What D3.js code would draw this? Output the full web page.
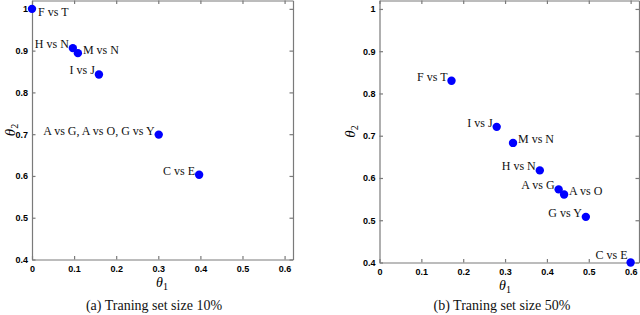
<!DOCTYPE html>
<html><head><meta charset="utf-8">
<script src="https://cdn.jsdelivr.net/npm/d3@7"></script>
<style>body{margin:0;background:#fff}svg{display:block}</style>
</head><body>
<svg id="c" width="640" height="315"></svg>
<script>
// ---- data ----
const xTicks = [0, 0.1, 0.2, 0.3, 0.4, 0.5, 0.6];
const yTicks = [0.4, 0.5, 0.6, 0.7, 0.8, 0.9, 1];
const xTickLabels = ["0", "0.1", "0.2", "0.3", "0.4", "0.5", "0.6"];
const yTickLabels = ["0.4", "0.5", "0.6", "0.7", "0.8", "0.9", "1"];

const labelsA = ["F vs T", "H vs N", "M vs N", "I vs J", "A vs G, A vs O, G vs Y", "C vs E"];
const theta1A = [0.0, 0.097, 0.109, 0.159, 0.301, 0.397];
const theta2A = [1.0, 0.906, 0.894, 0.843, 0.699, 0.603];
const placeA = ["SE", "W", "E", "W", "W", "W"];

const labelsB = ["F vs T", "I vs J", "M vs N", "H vs N", "A vs G", "A vs O", "G vs Y", "C vs E"];
const theta1B = [0.172, 0.280, 0.319, 0.383, 0.428, 0.441, 0.493, 0.600];
const theta2B = [0.830, 0.721, 0.683, 0.618, 0.573, 0.561, 0.508, 0.400];
const placeB = ["W", "W", "E", "W", "W", "E", "W", "NW"];

const captions = ["(a) Traning set size 10%", "(b) Traning set size 50%"];

// ---- drawing ----
const svg = d3.select("#c");
const panels = [
  {box: {l: 32, r: 293, t: 0.5, b: 259.5}, labels: labelsA, xs: theta1A, ys: theta2A, place: placeA, caption: captions[0], capX: 154, t1X: 162, t2X: 11},
  {box: {l: 379.5, r: 639, t: 0.5, b: 262.5}, labels: labelsB, xs: theta1B, ys: theta2B, place: placeB, caption: captions[1], capX: 502, t1X: 505, t2X: 351}
];
const offsets = {SE: [6, 7.5, "start"], W: [-4, 0, "end"], E: [5, 0.5, "start"], NW: [-3, -4, "end"]};
const axisColor = "#7a7a7a";

panels.forEach(p => {
  const b = p.box;
  const x = d3.scaleLinear().domain([0, 0.62]).range([b.l, b.r]);
  const y = d3.scaleLinear().domain([0.4, 1.02]).range([b.b, b.t]);
  const g = svg.append("g");

  // axes: ticks inside, on all four sides
  const fmtX = (d, i) => xTickLabels[i];
  const fmtY = (d, i) => yTickLabels[i];
  const bottom = g.append("g").attr("transform", `translate(0,${b.b})`)
    .call(d3.axisBottom(x).tickValues(xTicks).tickFormat(fmtX).tickSizeInner(-3.5).tickSizeOuter(0).tickPadding(6));
  const left = g.append("g").attr("transform", `translate(${b.l},0)`)
    .call(d3.axisLeft(y).tickValues(yTicks).tickFormat(fmtY).tickSizeInner(-3.5).tickSizeOuter(0).tickPadding(4));
  const top = g.append("g").attr("transform", `translate(0,${b.t})`)
    .call(d3.axisTop(x).tickValues(xTicks).tickFormat("").tickSizeInner(-3.5).tickSizeOuter(0));
  const right = g.append("g").attr("transform", `translate(${b.r},0)`)
    .call(d3.axisRight(y).tickValues(yTicks).tickFormat("").tickSizeInner(-3.5).tickSizeOuter(0));
  [bottom, left, top, right].forEach(a => {
    a.selectAll("path,line").attr("stroke", axisColor).attr("stroke-width", 1.2);
    a.selectAll("text").attr("fill", "#000").style("font-family", "'Liberation Sans', Arial, sans-serif")
      .style("font-size", "9px").style("font-weight", "bold");
  });

  // points
  const pts = p.labels.map((l, i) => ({l, x: p.xs[i], y: p.ys[i], pl: p.place[i]}));
  g.selectAll("circle").data(pts).enter().append("circle")
    .attr("cx", d => x(d.x)).attr("cy", d => y(d.y)).attr("r", 4.2).attr("fill", "#0000ff");
  g.selectAll("text.lbl").data(pts).enter().append("text").attr("class", "lbl")
    .attr("x", d => x(d.x) + offsets[d.pl][0]).attr("y", d => y(d.y) + offsets[d.pl][1])
    .attr("text-anchor", d => offsets[d.pl][2])
    .style("font-family", "'Liberation Serif', 'Times New Roman', serif").style("font-size", "12px")
    .attr("fill", "#111").text(d => d.l);

  // axis titles
  const t1 = g.append("text").attr("x", p.t1X).attr("y", b.b + 27).attr("text-anchor", "middle")
    .style("font-family", "'Liberation Serif', serif").style("font-size", "14px");
  t1.append("tspan").style("font-style", "italic").text("θ");
  t1.append("tspan").attr("dy", 3).style("font-size", "10px").text("1");
  const cy = (b.t + b.b) / 2;
  const t2 = g.append("text").attr("transform", `translate(${p.t2X + 4},${cy}) rotate(-90)`).attr("text-anchor", "middle")
    .style("font-family", "'Liberation Serif', serif").style("font-size", "15px");
  t2.append("tspan").style("font-style", "italic").text("θ");
  t2.append("tspan").attr("dy", 3).style("font-size", "10px").text("2");

  // caption
  g.append("text").attr("x", p.capX).attr("y", 310).attr("text-anchor", "middle")
    .style("font-family", "'Liberation Serif', serif").style("font-size", "14px").attr("fill", "#111")
    .text(p.caption);
});
</script>
</body></html>
